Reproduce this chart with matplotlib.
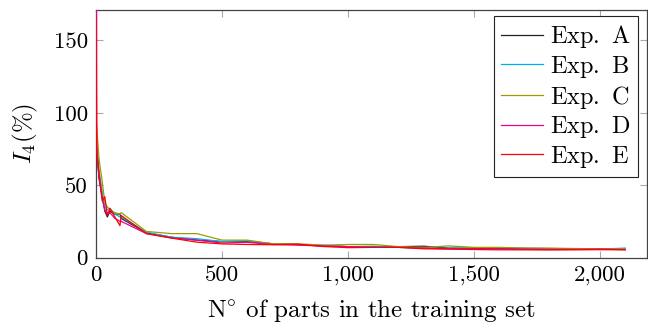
import matplotlib
matplotlib.use("Agg")
import matplotlib.pyplot as plt
from matplotlib.ticker import FixedLocator, FixedFormatter

plt.rcParams['font.family'] = ['cmr10', 'DejaVu Serif']
plt.rcParams['mathtext.fontset'] = 'cm'
plt.rcParams['axes.formatter.use_mathtext'] = True

x = [0, 3, 12, 25, 35, 45, 55, 75, 95, 100, 200, 300, 400, 500, 600, 700, 800,
     900, 1000, 1100, 1200, 1300, 1400, 1500, 1600, 1700, 1800, 1900, 2000, 2100]

exp_a = [80, 75, 55, 42, 32, 28, 32, 30, 30, 27, 17, 14, 12, 11, 11, 9.5, 9, 8,
         7.5, 7.5, 7.5, 7.8, 6.5, 6.3, 6.2, 6, 5.8, 5.8, 5.8, 5.8]
exp_b = [85, 78, 60, 45, 35, 33, 34, 30, 28, 28, 17.5, 14, 13, 11, 11.5, 9.5, 9,
         8.5, 7.5, 7.8, 7, 6.5, 6.5, 6.8, 6.8, 6.5, 6.2, 6, 5.8, 6.5]
exp_c = [97, 90, 68, 52, 38, 35, 33, 31, 30, 31, 18, 16.5, 16.5, 12, 12, 9.5, 9.5,
         8.5, 9, 9, 7.5, 7, 8, 7, 7, 6.5, 6.5, 6.2, 6, 6]
exp_d = [400, 72, 55, 40, 33, 30, 31, 27, 25, 25, 16.5, 13.5, 12, 10, 10.5, 9,
         8.5, 8, 7.5, 7, 7, 6.5, 6, 6, 6, 5.8, 5.6, 5.6, 5.8, 5.4]
exp_e = [165, 74, 58, 39, 42, 29, 34, 28, 22, 29, 16.5, 13.4, 10.6, 9.4, 9, 8.8,
         9.2, 7.6, 6.8, 7, 7, 6, 5.8, 5.5, 5.3, 5.3, 5.2, 5.3, 5.4, 5.3]

series = [exp_a, exp_b, exp_c, exp_d, exp_e]
labels = [r'Exp.$\,$ A', r'Exp.$\,$ B', r'Exp.$\,$ C', r'Exp.$\,$ D', r'Exp.$\,$ E']
colors = ['#222222', '#00AEEF', '#A09A00', '#EC008C', '#FF0000']

xticks = [0, 500, 1000, 1500, 2000]
xticklabels = ['0', '500', '1,000', '1,500', '2,000']
yticks = [0, 50, 100, 150]
yticklabels = ['0', '50', '100', '150']

fig = plt.figure(figsize=(6.48, 3.25), dpi=100)
ax = fig.add_axes([96/648, 1-257.5/325, (647-96)/648, (257.5-10)/325])

for ys, lab, c in zip(series, labels, colors):
    ax.plot(x, ys, color=c, lw=0.9, label=lab, zorder=3)

ax.set_xlim(0, 2186)
ax.set_ylim(0, 171)
ax.xaxis.set_major_locator(FixedLocator(xticks))
ax.xaxis.set_major_formatter(FixedFormatter(xticklabels))
ax.yaxis.set_major_locator(FixedLocator(yticks))
ax.yaxis.set_major_formatter(FixedFormatter(yticklabels))
ax.tick_params(direction='in', length=5, width=0.8, color='#aaaaaa',
               top=True, right=True, labelsize=16.5, pad=6)
for s in ax.spines.values():
    s.set_color('#444444')
    s.set_linewidth(0.9)
    s.set_zorder(2)

ax.set_xlabel(r'N$^{\circ}$ of parts in the training set', fontsize=18, labelpad=8)
ax.set_ylabel(r'$I_4(\%)$', fontsize=18, labelpad=10)

leg = ax.legend(loc='upper right', bbox_to_anchor=(1 - 9/551, 1 - 6/247.5),
                borderaxespad=0, fontsize=17.5, handlelength=1.7, handletextpad=0.3,
                labelspacing=0.15, fancybox=False, framealpha=1, edgecolor='#222222',
                borderpad=0.3)
leg.get_frame().set_linewidth(0.8)
leg.set_zorder(5)

fig.savefig('out.png', dpi=100)
